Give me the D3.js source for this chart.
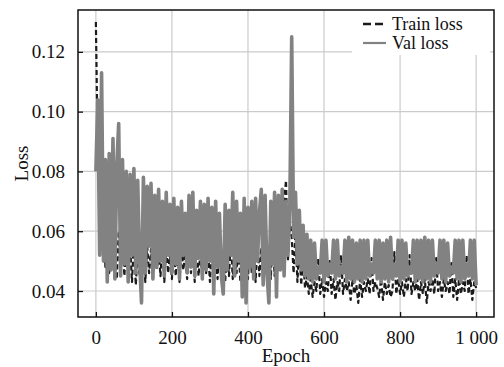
<!DOCTYPE html>
<html>
<head>
<meta charset="utf-8">
<script src="https://cdn.jsdelivr.net/npm/d3@7"></script>
<style>
  body { margin: 0; background: #fff; }
  svg { display: block; font-family: "Liberation Serif", "DejaVu Serif", serif; }
</style>
</head>
<body>
<div id="chart"></div>
<script>
// epochs sampled every 5
const epochs = d3.range(0, 1001, 5)

const trainLoss = [
  0.130,0.086,0.096,0.060,0.070,0.048,0.065,0.046,0.062,0.050,
  0.058,0.044,0.060,0.047,0.057,0.045,0.058,0.046,0.055,0.043,
  0.057,0.042,0.054,0.045,0.044,0.056,0.043,0.055,0.046,0.054,
  0.044,0.057,0.047,0.053,0.045,0.056,0.043,0.055,0.046,0.052,
  0.044,0.056,0.045,0.054,0.043,0.055,0.047,0.053,0.044,0.057,
  0.046,0.054,0.043,0.055,0.045,0.053,0.044,0.056,0.046,0.054,
  0.043,0.055,0.045,0.052,0.044,0.056,0.046,0.053,0.043,0.055,
  0.045,0.057,0.044,0.054,0.046,0.056,0.043,0.055,0.045,0.053,
  0.044,0.056,0.046,0.055,0.043,0.057,0.045,0.054,0.044,0.058,
  0.046,0.055,0.044,0.060,0.045,0.062,0.047,0.066,0.048,0.070,
  0.077,0.050,0.064,0.058,0.046,0.060,0.043,0.055,0.042,0.052,
  0.041,0.045,0.039,0.044,0.038,0.043,0.040,0.051,0.039,0.044,
  0.038,0.043,0.040,0.050,0.039,0.044,0.037,0.043,0.040,0.052,
  0.039,0.044,0.040,0.043,0.037,0.044,0.039,0.042,0.036,0.044,
  0.038,0.043,0.040,0.044,0.039,0.051,0.040,0.043,0.041,0.038,
  0.044,0.037,0.043,0.039,0.042,0.038,0.040,0.053,0.039,0.044,
  0.039,0.043,0.038,0.044,0.040,0.052,0.039,0.043,0.040,0.044,
  0.037,0.043,0.039,0.044,0.036,0.043,0.040,0.044,0.039,0.051,
  0.040,0.043,0.038,0.044,0.040,0.043,0.039,0.050,0.038,0.044,
  0.037,0.044,0.039,0.043,0.040,0.052,0.039,0.044,0.037,0.043,
  0.041
]

const valLoss = [
  0.080,0.104,0.052,0.113,0.050,0.084,0.043,0.086,0.047,0.091,
  0.044,0.082,0.096,0.045,0.084,0.049,0.080,0.043,0.079,0.052,
  0.081,0.046,0.077,0.050,0.036,0.078,0.046,0.075,0.055,0.076,
  0.044,0.072,0.048,0.074,0.050,0.070,0.045,0.073,0.052,0.069,
  0.046,0.071,0.049,0.068,0.044,0.070,0.052,0.066,0.046,0.072,
  0.048,0.073,0.045,0.067,0.051,0.070,0.044,0.069,0.047,0.071,
  0.050,0.068,0.039,0.070,0.048,0.066,0.045,0.039,0.069,0.047,
  0.067,0.052,0.073,0.045,0.070,0.050,0.066,0.038,0.071,0.036,
  0.068,0.048,0.070,0.044,0.071,0.050,0.066,0.074,0.042,0.072,
  0.046,0.036,0.070,0.049,0.073,0.038,0.072,0.047,0.074,0.045,
  0.070,0.052,0.068,0.125,0.058,0.073,0.049,0.067,0.047,0.062,
  0.045,0.059,0.044,0.057,0.043,0.056,0.044,0.048,0.046,0.057,
  0.043,0.057,0.045,0.049,0.046,0.057,0.044,0.057,0.045,0.048,
  0.046,0.057,0.043,0.058,0.044,0.057,0.043,0.056,0.044,0.057,
  0.043,0.057,0.044,0.057,0.045,0.049,0.046,0.057,0.044,0.057,
  0.043,0.056,0.044,0.057,0.043,0.058,0.044,0.049,0.045,0.057,
  0.043,0.057,0.044,0.056,0.045,0.048,0.046,0.057,0.043,0.057,
  0.044,0.057,0.043,0.058,0.044,0.057,0.043,0.057,0.045,0.049,
  0.046,0.057,0.044,0.057,0.043,0.056,0.045,0.048,0.046,0.057,
  0.044,0.057,0.043,0.057,0.044,0.049,0.045,0.057,0.044,0.057,
  0.042
]

const xTicks = [0, 200, 400, 600, 800, 1000]
const yTicks = [0.04, 0.06, 0.08, 0.10, 0.12]
const seriesNames = ["Train loss", "Val loss"]

const width = 504, height = 367
const margin = {top: 10, right: 10, bottom: 50, left: 78}
const plotW = width - margin.left - margin.right
const plotH = height - margin.top - margin.bottom

const gridColor = "#cbcbcb"
const trainColor = "#1b1b1b"
const valColor = "#828282"

const svg = d3.select("#chart").append("svg")
    .attr("width", width)
    .attr("height", height)

const xScale = d3.scaleLinear()
    .domain([-47, 1047])
    .range([margin.left, margin.left + plotW])
const yScale = d3.scaleLinear()
    .domain([0.0313, 0.134])
    .range([margin.top + plotH, margin.top])

svg.append("clipPath").attr("id", "plot-clip")
  .append("rect")
    .attr("x", margin.left).attr("y", margin.top)
    .attr("width", plotW).attr("height", plotH)

// grid
const grid = svg.append("g").attr("class", "grid")
grid.selectAll("line.gx").data(xTicks).enter().append("line")
    .attr("class", "gx")
    .attr("x1", d => xScale(d)).attr("x2", d => xScale(d))
    .attr("y1", margin.top).attr("y2", margin.top + plotH)
    .attr("stroke", gridColor).attr("stroke-width", 1.2)
grid.selectAll("line.gy").data(yTicks).enter().append("line")
    .attr("class", "gy")
    .attr("x1", margin.left).attr("x2", margin.left + plotW)
    .attr("y1", d => yScale(d)).attr("y2", d => yScale(d))
    .attr("stroke", gridColor).attr("stroke-width", 1.2)

// legend background hides grid behind it
const legendX = 352, legendY = 11
svg.append("rect")
    .attr("x", legendX).attr("y", legendY)
    .attr("width", 138).attr("height", 44)
    .attr("fill", "#fff")

const line = d3.line()
    .x((d, i) => xScale(epochs[i]))
    .y(d => yScale(d))

const lines = svg.append("g").attr("clip-path", "url(#plot-clip)")
lines.append("path")
    .datum(trainLoss)
    .attr("d", line)
    .attr("fill", "none")
    .attr("stroke", trainColor)
    .attr("stroke-width", 2.2)
    .attr("stroke-linejoin", "round")
    .attr("stroke-dasharray", "5,3")
lines.append("path")
    .datum(valLoss)
    .attr("d", line)
    .attr("fill", "none")
    .attr("stroke", valColor)
    .attr("stroke-width", 3.6)
    .attr("stroke-linejoin", "round")

// axes
const fmtLocale = d3.formatLocale({decimal: ".", thousands: " ", grouping: [3], currency: ["", ""]})
const xAxis = d3.axisBottom(xScale).tickValues(xTicks)
    .tickSizeInner(-5).tickSizeOuter(0).tickPadding(14)
    .tickFormat(fmtLocale.format(","))
const yAxis = d3.axisLeft(yScale).tickValues(yTicks)
    .tickSizeInner(-5).tickSizeOuter(0).tickPadding(13)
    .tickFormat(d3.format(".2f"))

const gx = svg.append("g")
    .attr("transform", `translate(0,${margin.top + plotH})`)
    .call(xAxis)
const gy = svg.append("g")
    .attr("transform", `translate(${margin.left},0)`)
    .call(yAxis)
;[gx, gy].forEach(g => {
    g.select(".domain").remove()
    g.selectAll(".tick line").attr("stroke", "#111").attr("stroke-width", 1.3)
    g.selectAll(".tick text")
        .attr("fill", "#111")
        .style("font-family", "Liberation Serif, serif")
        .style("font-size", "19px")
})

// frame
svg.append("rect")
    .attr("x", margin.left).attr("y", margin.top)
    .attr("width", plotW).attr("height", plotH)
    .attr("fill", "none").attr("stroke", "#111").attr("stroke-width", 1.5)

// axis titles
svg.append("text")
    .attr("x", margin.left + plotW / 2).attr("y", 362)
    .attr("text-anchor", "middle")
    .attr("fill", "#111").style("font-size", "19px")
    .text("Epoch")
svg.append("text")
    .attr("transform", `translate(28,${margin.top + plotH / 2}) rotate(-90)`)
    .attr("text-anchor", "middle")
    .attr("fill", "#111").style("font-size", "19px")
    .text("Loss")

// legend
const legend = svg.append("g")
const legendRows = legend.selectAll("g").data(seriesNames).enter().append("g")
    .attr("transform", (d, i) => `translate(363,${24 + i * 19})`)
legendRows.append("line")
    .attr("x1", 0).attr("x2", 23).attr("y1", 0).attr("y2", 0)
    .attr("stroke", (d, i) => i === 0 ? trainColor : valColor)
    .attr("stroke-width", (d, i) => i === 0 ? 2.4 : 2.2)
    .attr("stroke-dasharray", (d, i) => i === 0 ? "8,4" : null)
legendRows.append("text")
    .attr("x", 29).attr("y", 6)
    .attr("fill", "#111").style("font-size", "18px")
    .text(d => d)
</script>
</body>
</html>
